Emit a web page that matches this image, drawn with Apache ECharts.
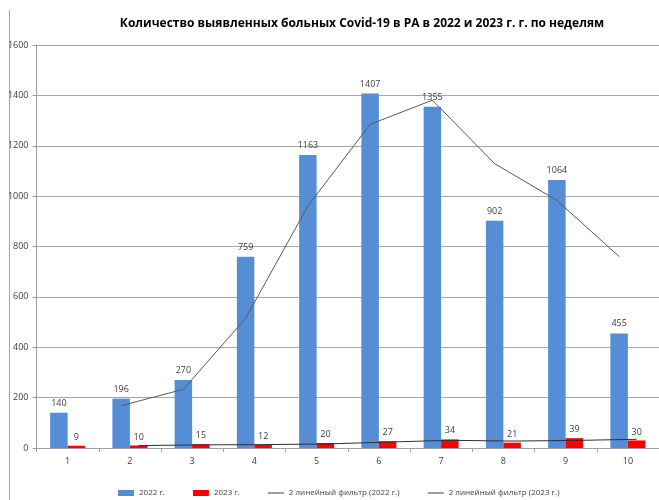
<!DOCTYPE html>
<html>
<head>
<meta charset="utf-8">
<script src="https://cdn.jsdelivr.net/npm/echarts@6/dist/echarts.min.js"></script>
<style>html,body{margin:0;padding:0;background:#fff}#c{width:659px;height:500px}</style>
</head>
<body>
<div id="c"></div>
<script>
var weeks = ['1','2','3','4','5','6','7','8','9','10'];
var cases2022 = [140, 196, 270, 759, 1163, 1407, 1355, 902, 1064, 455];
var cases2023 = [9, 10, 15, 12, 20, 27, 34, 21, 39, 30];
// 2-period moving-average trendlines (start at week 2)
var trend2022 = [null, 168, 233, 515, 961, 1285, 1381, 1129, 983, 760];
var trend2023 = [null, 9.5, 12.5, 13.5, 16, 23.5, 30.5, 27.5, 30, 34.5];
var yTicks = [0, 200, 400, 600, 800, 1000, 1200, 1400, 1600];

var names = ['2022 г.', '2023 г.', '2 линейный фильтр (2022 г.)', '2 линейный фильтр (2023 г.)'];
var gridLeft = 36.5, gridRight = -2.5;
var plotW = 659 - gridLeft - gridRight;
var catW = plotW / weeks.length;
var barW = 17.5;
var off = (barW / 2) / catW; // offset of each bar's centre in category units

function trendPoints(arr, sign) {
  var out = [];
  arr.forEach(function (v, i) {
    if (v != null) out.push([i + 1 + sign * off, v]);
  });
  return out;
}

var lineIcon = 'path://M0,0h17v0.01h-17zM0,2.5h17v1h-17zM0,6h17v0.01h-17z';

var chart = echarts.init(document.getElementById('c'), null, {renderer: 'canvas'});
var txt = '#404040';
var font = 'Open Sans';
chart.setOption({
  animation: false,
  backgroundColor: '#fff',
  title: {
    text: 'Количество выявленных больных Covid-19 в РА в 2022 и 2023 г. г. по неделям',
    left: 357, top: 13, textAlign: 'center',
    textStyle: {fontFamily: font, fontSize: 12, fontWeight: 'bold', color: '#000'}
  },
  legend: {
    top: 484, left: 113,
    itemGap: 28, itemWidth: 16, itemHeight: 6,
    textStyle: {fontFamily: font, fontSize: 8, color: txt},
    data: [
      {name: names[0], icon: 'rect'},
      {name: names[1], icon: 'rect'},
      {name: names[2], icon: lineIcon, itemStyle: {color: '#404040'}},
      {name: names[3], icon: lineIcon, itemStyle: {color: '#404040'}}
    ]
  },
  graphic: [{
    type: 'line', shape: {x1: 9.5, y1: 10, x2: 9.5, y2: 500},
    style: {stroke: '#a6a6a6', lineWidth: 1}, silent: true
  }],
  grid: {left: gridLeft, right: gridRight, top: 45, bottom: 52, containLabel: false},
  xAxis: [{
    type: 'category', data: weeks,
    axisLine: {lineStyle: {color: '#a0a0a0'}},
    axisTick: {show: true, length: 4, lineStyle: {color: '#a0a0a0'}},
    axisLabel: {fontFamily: font, fontSize: 9, color: txt, margin: 9}
  }, {
    type: 'value', min: 0.5, max: 10.5, show: false
  }],
  yAxis: {
    type: 'value', min: yTicks[0], max: yTicks[yTicks.length - 1], interval: 200,
    axisLine: {show: true, lineStyle: {color: '#a0a0a0'}},
    axisTick: {show: true, length: 4, lineStyle: {color: '#a0a0a0'}},
    axisLabel: {fontFamily: font, fontSize: 9, color: txt, margin: 8,
      formatter: function (v) { return String(v); }},
    splitLine: {lineStyle: {color: '#a6a6a6', width: 1}}
  },
  series: [{
    name: names[0], type: 'bar', data: cases2022, barWidth: barW, barGap: '0%',
    itemStyle: {color: '#558ED5'},
    label: {show: true, position: 'top', distance: 5, fontFamily: font, fontSize: 9, color: txt}
  }, {
    name: names[1], type: 'bar', data: cases2023, barWidth: barW, barGap: '0%',
    itemStyle: {color: '#FF0000'},
    label: {show: true, position: 'top', distance: 4, fontFamily: font, fontSize: 9, color: txt}
  }, {
    name: names[2], type: 'line', xAxisIndex: 1, data: trendPoints(trend2022, -1),
    symbol: 'none', lineStyle: {color: '#5a5a5a', width: 1}, itemStyle: {color: '#5a5a5a'}, z: 5
  }, {
    name: names[3], type: 'line', xAxisIndex: 1, data: trendPoints(trend2023, 1),
    symbol: 'none', lineStyle: {color: '#303030', width: 1}, itemStyle: {color: '#303030'}, z: 5
  }]
});
</script>
</body>
</html>
